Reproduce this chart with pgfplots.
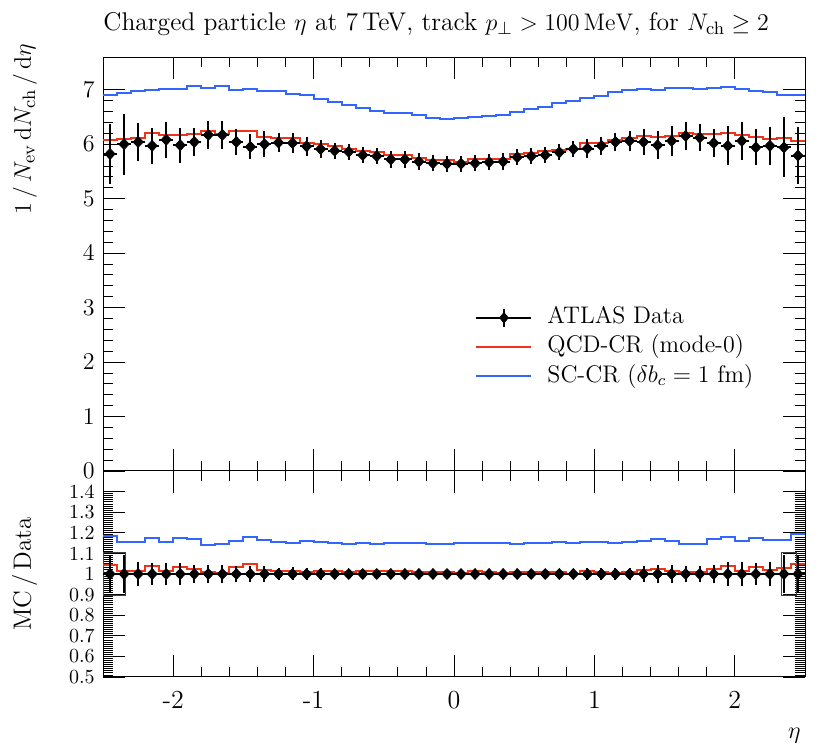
\documentclass[border=0pt]{standalone}
\usepackage{pgfplots}
\pgfplotsset{compat=1.18}
\usepackage{pgfplotstable}
\definecolor{rvred}{RGB}{238,51,25}
\definecolor{rvblue}{RGB}{51,102,255}
\pgfplotstableread{
lo c d e r b
-2.5 -2.45 5.82 0.55 6.07 6.90
-2.4 -2.35 6.00 0.56 6.10 6.93
-2.3 -2.25 6.04 0.35 6.12 6.97
-2.2 -2.15 5.97 0.33 6.20 7.00
-2.1 -2.05 6.08 0.33 6.16 7.01
-2.0 -1.95 5.98 0.32 6.17 7.02
-1.9 -1.85 6.04 0.25 6.19 7.06
-1.8 -1.75 6.17 0.26 6.24 7.04
-1.7 -1.65 6.17 0.26 6.19 7.06
-1.6 -1.55 6.04 0.24 6.24 7.00
-1.5 -1.45 5.95 0.23 6.24 7.02
-1.4 -1.35 6.00 0.24 6.13 6.98
-1.3 -1.25 6.03 0.18 6.11 6.98
-1.2 -1.15 6.02 0.19 6.12 6.92
-1.1 -1.05 5.96 0.17 6.03 6.90
-1.0 -0.95 5.91 0.17 6.00 6.82
-0.9 -0.85 5.88 0.15 5.96 6.77
-0.8 -0.75 5.86 0.15 5.91 6.72
-0.7 -0.65 5.80 0.15 5.88 6.67
-0.6 -0.55 5.78 0.15 5.85 6.61
-0.5 -0.45 5.72 0.15 5.80 6.57
-0.4 -0.35 5.72 0.15 5.80 6.57
-0.3 -0.25 5.68 0.15 5.74 6.53
-0.2 -0.15 5.65 0.15 5.70 6.48
-0.1 -0.05 5.64 0.15 5.70 6.46
0.0 0.05 5.64 0.15 5.67 6.48
0.1 0.15 5.65 0.15 5.72 6.50
0.2 0.25 5.67 0.15 5.73 6.51
0.3 0.35 5.68 0.15 5.72 6.54
0.4 0.45 5.76 0.15 5.82 6.59
0.5 0.55 5.78 0.15 5.84 6.65
0.6 0.65 5.80 0.15 5.87 6.68
0.7 0.75 5.85 0.15 5.90 6.75
0.8 0.85 5.91 0.15 5.91 6.79
0.9 0.95 5.92 0.17 6.02 6.84
1.0 1.05 5.97 0.17 6.02 6.89
1.1 1.15 6.04 0.17 6.08 6.95
1.2 1.25 6.06 0.18 6.12 6.99
1.3 1.35 6.04 0.24 6.15 7.01
1.4 1.45 5.98 0.26 6.13 6.99
1.5 1.55 6.06 0.27 6.15 7.03
1.6 1.65 6.15 0.25 6.21 7.04
1.7 1.75 6.12 0.25 6.19 7.02
1.8 1.85 6.02 0.26 6.18 7.04
1.9 1.95 5.97 0.36 6.21 7.05
2.0 2.05 6.06 0.35 6.16 7.02
2.1 2.15 5.94 0.33 6.13 6.98
2.2 2.25 5.97 0.35 6.09 6.95
2.3 2.35 5.94 0.55 6.12 6.91
2.4 2.45 5.79 0.53 6.06 6.90
2.5 2.55 5.79 0.53 6.06 6.90
}\tab
\pgfplotsset{
  rv/.style={
    scale only axis, width=351pt,
    xmin=-2.5, xmax=2.5,
    tick align=inside,
    major tick length=11pt, minor tick length=5pt,
    every tick/.style={black, line width=0.4pt},
    axis line style={black, line width=0.5pt},
    xtick={-2,-1,0,1,2}, minor x tick num=4,
    every tick label/.append style={font=\fontsize{13}{15}\selectfont},
  },
  hist/.style={const plot mark left, mark=none, line width=1pt},
  dat/.style={black, only marks, mark=diamond*, mark size=2.7pt,
    mark options={xscale=1.25, solid},
    error bars/x dir=both, error bars/x fixed=0.05,
    error bars/y dir=both, error bars/y explicit,
    error bars/error bar style={line width=1pt, black},
    error bars/error mark=none},
}
\begin{document}
\fontsize{12}{14.4}\selectfont
\begin{tikzpicture}
\path[use as bounding box] (0,0) rectangle (415pt,-375pt);
\begin{axis}[rv, name=main, at={(51.5pt,-28.5pt)}, anchor=north west,
  height=207pt, ymin=0, ymax=7.6,
  ytick={0,1,2,3,4,5,6,7}, minor y tick num=4,
  yticklabel style={inner sep=0pt, xshift=-4pt},
  xticklabels={},
  legend style={at={(0.53,0.40)}, anchor=north west, draw=none, fill=none,
    inner sep=0pt, row sep=2.6pt, font=\fontsize{12}{14}\selectfont,
    nodes={inner sep=0pt, text height=9pt, text depth=3pt},
    /tikz/every odd column/.append style={column sep=7.5pt}},
  legend cell align=left,
]
\addplot[forget plot, hist, rvred] table[x=lo, y=r] {\tab};
\addplot[forget plot, hist, rvblue] table[x=lo, y=b] {\tab};
\addplot[forget plot, dat] table[x=c, y=d, y error=e, skip coords between index={50}{51}] {\tab};
\addlegendimage{legend image code/.code={
  \draw[black, line width=1pt] (0pt,0pt) -- (27.5pt,0pt);
  \draw[black, line width=1pt] (13.75pt,-4.5pt) -- (13.75pt,4.5pt);
  \fill[black] (13.75pt,2.6pt) -- (15.9pt,0pt) -- (13.75pt,-2.6pt) -- (11.6pt,0pt) -- cycle;}}
\addlegendentry{ATLAS Data}
\addlegendimage{legend image code/.code={\draw[rvred, line width=1pt] (0pt,0pt) -- (27.5pt,0pt);}}
\addlegendentry{QCD-CR (mode-0)}
\addlegendimage{legend image code/.code={\draw[rvblue, line width=1pt] (0pt,0pt) -- (27.5pt,0pt);}}
\addlegendentry{SC-CR ($\delta b_c = 1$ fm)}
\end{axis}
\begin{axis}[rv, name=rat, at={(main.south west)}, anchor=north west,
  height=103pt, ymin=0.5, ymax=1.5,
  ytick={0.5,0.6,0.7,0.8,0.9,1,1.1,1.2,1.3,1.4},
  yticklabels={0.5,0.6,0.7,0.8,0.9,1,1.1,1.2,1.3,1.4},
  yticklabel style={font=\fontsize{10}{11}\selectfont, inner sep=0pt, xshift=-4pt},
  minor y tick num=9,
  xticklabels={-2,-1,0,1,2},
  xticklabel style={yshift=-3pt},
]
\addplot[black!75, line width=0.6pt] coordinates {(-2.5,0.895) (-2.34,0.895) (-2.34,1.105) (-2.5,1.105) (-2.5,0.895)};
\addplot[black!75, line width=0.6pt] coordinates {(2.33,0.895) (2.44,0.895) (2.44,1.105) (2.33,1.105) (2.33,0.895)};
\addplot[hist, rvred] table[x=lo, y expr=\thisrow{r}/\thisrow{d}] {\tab};
\addplot[hist, rvblue] table[x=lo, y expr=\thisrow{b}/\thisrow{d}] {\tab};
\addplot[dat] table[x=c, y expr=\thisrow{d}/\thisrow{d}, y error expr=\thisrow{e}/\thisrow{d}, skip coords between index={50}{51}] {\tab};
\end{axis}
\node[anchor=base west, inner sep=0pt, font=\fontsize{12.8}{15}\selectfont] at (51.5pt,-15pt) {Charged particle $\eta$ at 7\,TeV, track $p_\perp > 100\,\mathrm{MeV}$, for $N_\mathrm{ch} \geq 2$};
\node[rotate=90, anchor=base east, inner sep=0pt, font=\fontsize{12.5}{15}\selectfont] at (15.5pt,-22pt) {$1\,/\,N_\mathrm{ev}\,\mathrm{d}N_\mathrm{ch}\,/\,\mathrm{d}\eta$};
\node[rotate=90, anchor=base, inner sep=0pt, font=\fontsize{12.5}{15}\selectfont] at (15.5pt,-287pt) {MC\,/\,Data};
\node[anchor=base east, inner sep=0pt, font=\fontsize{13}{15}\selectfont] at (400.5pt,-369pt) {$\eta$};
\end{tikzpicture}
\end{document}
